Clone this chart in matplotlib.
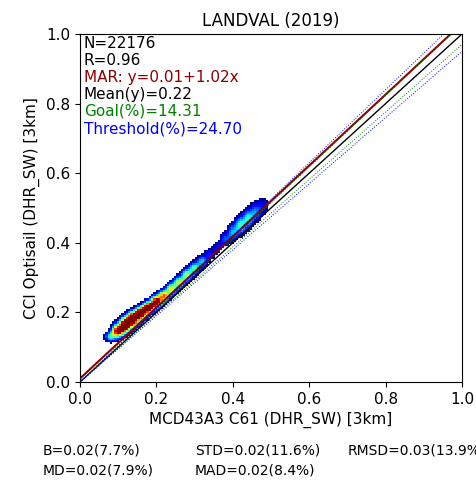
import numpy as np
import matplotlib
matplotlib.use('Agg')
import matplotlib.pyplot as plt

# ridge of the point cloud
ridge_x = [0.08, 0.10, 0.12, 0.14, 0.16, 0.18, 0.20, 0.22, 0.24, 0.26, 0.28,
           0.30, 0.32, 0.34, 0.36, 0.38, 0.40, 0.42, 0.44, 0.46, 0.48]
ridge_y = [0.130, 0.148, 0.165, 0.182, 0.198, 0.214, 0.230, 0.247, 0.267, 0.287, 0.307,
           0.327, 0.347, 0.367, 0.387, 0.410, 0.430, 0.450, 0.470, 0.488, 0.505]
ridge_w = [0.014, 0.018, 0.020, 0.019, 0.017, 0.015, 0.015, 0.015, 0.016, 0.016, 0.017,
           0.017, 0.016, 0.014, 0.014, 0.018, 0.022, 0.024, 0.026, 0.026, 0.022]
ridge_d = [0.35, 0.85, 1.00, 1.00, 1.00, 0.95, 0.85, 0.60, 0.50, 0.45, 0.42,
           0.35, 0.28, 0.15, 0.12, 0.18, 0.25, 0.32, 0.30, 0.22, 0.12]

stats_top = ['N=22176', 'R=0.96', 'MAR: y=0.01+1.02x', 'Mean(y)=0.22',
             'Goal(%)=14.31', 'Threshold(%)=24.70']
stats_colors = ['black', 'black', 'darkred', 'black', 'green', 'blue']
stats_bottom = [['B=0.02(7.7%)', 'STD=0.02(11.6%)', 'RMSD=0.03(13.9%)'],
                ['MD=0.02(7.9%)', 'MAD=0.02(8.4%)']]

mar_a, mar_b = 0.01, 1.02
goal, threshold = 0.03, 0.05

# density grid built from the ridge description
edges = np.arange(0, 1.0001, 0.006)
cx = 0.5 * (edges[:-1] + edges[1:])
X, Y = np.meshgrid(cx, cx)
dens = np.zeros_like(X)
for x0, y0, w, d in zip(ridge_x, ridge_y, ridge_w, ridge_d):
    dens += d * np.exp(-((X - x0) / 0.014) ** 2 - ((Y - y0) / w) ** 2)
dens = np.ma.masked_less(dens, 0.05)

fig = plt.figure(figsize=(4.77, 4.83), dpi=100)
ax = fig.add_axes([80 / 477, 1 - 382 / 483, 382 / 477, 348 / 483])

ax.pcolormesh(edges, edges, dens, cmap='jet', vmin=0.05, vmax=0.75)

xx = np.array([0, 1])
ax.plot(xx, xx, color='black', lw=1)
ax.plot(xx, mar_a + mar_b * xx, color='darkred', lw=1.5)
ax.plot(xx, xx * (1 + goal), color='green', lw=0.7, ls=':')
ax.plot(xx, xx * (1 - goal), color='green', lw=0.7, ls=':')
ax.plot(xx, xx * (1 + threshold), color='blue', lw=0.7, ls=':')
ax.plot(xx, xx * (1 - threshold), color='blue', lw=0.7, ls=':')

ax.set_xlim(0, 1)
ax.set_ylim(0, 1)
ax.set_xticks(np.arange(0, 1.01, 0.2))
ax.set_yticks(np.arange(0, 1.01, 0.2))
ax.tick_params(labelsize=11)
ax.set_title('LANDVAL (2019)', fontsize=12)
ax.set_xlabel('MCD43A3 C61 (DHR_SW) [3km]', fontsize=11)
ax.set_ylabel('CCI Optisail (DHR_SW) [3km]', fontsize=11)

for i, (txt, c) in enumerate(zip(stats_top, stats_colors)):
    ax.text(0.01, 0.995 - i * 0.049, txt, color=c, fontsize=11,
            transform=ax.transAxes, va='top', ha='left')

col_x = [43 / 477, 195 / 477, 348 / 477]
row_y = [1 - 450 / 483, 1 - 471 / 483]
for r, row in enumerate(stats_bottom):
    for c, txt in enumerate(row):
        fig.text(col_x[c], row_y[r], txt, fontsize=10, va='center', ha='left')

fig.savefig('out.png', dpi=100)
